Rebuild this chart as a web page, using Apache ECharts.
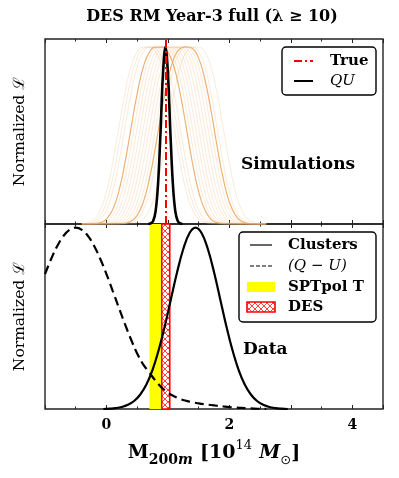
<!DOCTYPE html>
<html><head><meta charset="utf-8">
<script src="https://cdn.jsdelivr.net/npm/echarts@6/dist/echarts.min.js"></script>
<style>html,body{margin:0;padding:0;background:#fff}#c{width:399px;height:478px}</style>
</head><body><div id="c"></div>
<script>
// ---------- data ----------
const xTicks = [0, 2, 4];
const trueMass = 0.97;
const spt = [0.70, 0.90];
const des = [0.90, 1.03];

// simulation likelihoods, sampled on xsSim
const xsSim = [-0.4,-0.3,-0.2,-0.1,0,0.1,0.2,0.3,0.4,0.5,0.6,0.7,0.8,0.9,1.0,1.1,1.2,1.3,1.4,1.5,1.6,1.7,1.8,1.9,2.0,2.1,2.2,2.3,2.4,2.5,2.6];
const sim01 = [.002,.008,.028,.080,.183,.344,.542,.737,.887,.971,.999,.999,.971,.887,.737,.542,.344,.183,.080,.028,.008,.002,0,0,0,0,0,0,0,0,0];
const sim02 = [.001,.004,.015,.049,.124,.257,.440,.643,.819,.937,.991,1,.991,.937,.819,.643,.440,.257,.124,.049,.015,.004,.001,0,0,0,0,0,0,0,0];
const sim03 = [0,.002,.008,.028,.080,.183,.344,.542,.737,.887,.971,.999,.999,.971,.887,.737,.542,.344,.183,.080,.028,.008,.002,0,0,0,0,0,0,0,0];
const sim04 = [0,0,.002,.008,.028,.080,.183,.344,.542,.737,.887,.971,.999,.999,.971,.887,.737,.542,.344,.183,.080,.028,.008,.002,0,0,0,0,0,0,0];
const sim05 = [0,0,.001,.004,.015,.049,.124,.257,.440,.643,.819,.937,.991,1,.991,.937,.819,.643,.440,.257,.124,.049,.015,.004,.001,0,0,0,0,0,0];
const sim06 = [0,0,0,.002,.008,.028,.080,.183,.344,.542,.737,.887,.971,.999,.999,.971,.887,.737,.542,.344,.183,.080,.028,.008,.002,0,0,0,0,0,0];
const sim07 = [0,0,0,.001,.004,.015,.049,.124,.257,.440,.643,.819,.937,.991,1,.991,.937,.819,.643,.440,.257,.124,.049,.015,.004,.001,0,0,0,0,0];
const sim08 = [0,0,0,0,.002,.008,.028,.080,.183,.344,.542,.737,.887,.971,.999,.999,.971,.887,.737,.542,.344,.183,.080,.028,.008,.002,0,0,0,0,0];
const sim09 = [0,0,0,0,.001,.004,.015,.049,.124,.257,.440,.643,.819,.937,.991,1,.991,.937,.819,.643,.440,.257,.124,.049,.015,.004,.001,0,0,0,0];
const sim10 = [0,0,0,0,0,.002,.008,.028,.080,.183,.344,.542,.737,.887,.971,.999,.999,.971,.887,.737,.542,.344,.183,.080,.028,.008,.002,0,0,0,0];
const sim11 = [0,0,0,0,0,.001,.004,.015,.049,.124,.257,.440,.643,.819,.937,.991,1,.991,.937,.819,.643,.440,.257,.124,.049,.015,.004,.001,0,0,0];
const sim12 = [0,0,0,0,0,0,.002,.008,.028,.080,.183,.344,.542,.737,.887,.971,.999,.999,.971,.887,.737,.542,.344,.183,.080,.028,.008,.002,0,0,0];
const sim13 = [0,0,0,0,0,0,.001,.004,.015,.049,.124,.257,.440,.643,.819,.937,.991,1,.991,.937,.819,.643,.440,.257,.124,.049,.015,.004,.001,0,0];
const sim14 = [0,0,0,0,0,0,0,.002,.008,.028,.080,.183,.344,.542,.737,.887,.971,.999,.999,.971,.887,.737,.542,.344,.183,.080,.028,.008,.002,0,0];
const sim15 = [0,0,0,0,0,0,0,0,.002,.008,.028,.080,.183,.344,.542,.737,.887,.971,.999,.999,.971,.887,.737,.542,.344,.183,.080,.028,.008,.002,0];
const simCurves = [sim01,sim02,sim03,sim04,sim05,sim06,sim07,sim08,sim09,sim10,sim11,sim12,sim13,sim14,sim15];

// QU stacked likelihood (simulations)
const xsQU = [0.68,0.72,0.76,0.80,0.84,0.88,0.92,0.96,1.00,1.04,1.08,1.12,1.16,1.20,1.24];
const quVals = [0,.003,.017,.073,.23,.52,.85,1,.85,.52,.23,.073,.017,.003,0];

// data panel: cluster likelihood
const xsClusters = [-0.05,0.05,0.15,0.25,0.35,0.45,0.55,0.65,0.75,0.85,0.95,1.05,1.15,1.25,1.35,1.45,1.55,1.65,1.75,1.85,1.95,2.05,2.15,2.25,2.35,2.45,2.55,2.65,2.75,2.85,2.95];
const clusters = [0,.002,.005,.011,.023,.044,.080,.135,.216,.325,.458,.607,.755,.882,.969,1,.969,.882,.755,.607,.458,.325,.216,.135,.080,.044,.023,.011,.005,.002,0];
// data panel: (Q-U) null test
const xsQU2 = [-1.0,-0.9,-0.8,-0.7,-0.6,-0.5,-0.4,-0.3,-0.2,-0.1,0.0,0.1,0.2,0.3,0.4,0.5,0.6,0.7,0.8,0.9,1.0,1.1,1.2,1.3,1.4,1.5,1.6,1.7,1.8,1.9,2.0,2.1,2.2,2.3,2.4,2.5,2.6];
const qMinusU = [.744,.827,.899,.954,.988,1,.988,.954,.899,.827,.744,.653,.560,.469,.383,.306,.245,.20,.155,.118,.09,.07,.055,.045,.037,.031,.026,.022,.018,.014,.011,.008,.006,.004,.002,.001,0];

// ---------- chart ----------
const SERIF = 'DejaVu Serif';
const zip = (xs, ys) => xs.map((x, i) => [x, ys[i]]);

function hatch() {
  const c = document.createElement('canvas'); c.width = 6; c.height = 6;
  const g = c.getContext('2d');
  g.fillStyle = '#fff'; g.fillRect(0, 0, 6, 6);
  g.strokeStyle = '#ff2a2a'; g.lineWidth = 0.9;
  g.beginPath(); g.moveTo(0, 0); g.lineTo(6, 6); g.moveTo(6, 0); g.lineTo(0, 6); g.stroke();
  return c;
}
const hatchPattern = { image: hatch(), repeat: 'repeat' };

const tickCommon = {
  type: 'value', min: -1, max: 4.5, interval: 1,
  splitLine: { show: false }, axisLine: { show: false },
  axisTick: { inside: true, length: 4, lineStyle: { color: '#222', width: 1 } },
  minorTick: { show: true, splitNumber: 2, length: 2.5, lineStyle: { color: '#222', width: 1 } },
  axisLabel: { show: false }
};

const chart = echarts.init(document.getElementById('c'));
const prominent = new Set([3, 12]);

const series = [];
simCurves.forEach((ys, i) => {
  series.push({
    type: 'line', xAxisIndex: 0, yAxisIndex: 0, data: zip(xsSim, ys), smooth: 0.5,
    showSymbol: false, silent: true, z: 2,
    lineStyle: prominent.has(i) ? { color: '#e9a45c', width: 1.2, opacity: 0.85 }
                                : { color: '#f2b679', width: 0.9, opacity: 0.33 }
  });
});
series.push({
  type: 'line', xAxisIndex: 0, yAxisIndex: 0, data: zip(xsQU, quVals), smooth: 0.4,
  showSymbol: false, silent: true, z: 3, lineStyle: { color: '#000', width: 2.6 },
  markLine: {
    silent: true, symbol: ['none', 'none'], label: { show: false },
    lineStyle: { color: '#ff0000', width: 2, type: [8, 3, 2, 3] },
    data: [{ xAxis: trueMass }]
  }
});
series.push({
  type: 'line', xAxisIndex: 2, yAxisIndex: 1, data: [], z: 1,
  markArea: {
    silent: true,
    data: [
      [{ xAxis: spt[0], itemStyle: { color: '#ffff00' } }, { xAxis: spt[1] }],
      [{ xAxis: des[0], itemStyle: { color: hatchPattern, borderColor: '#ff0000', borderWidth: 1.6 } }, { xAxis: des[1] }]
    ]
  }
});
series.push({
  type: 'line', xAxisIndex: 2, yAxisIndex: 1, data: zip(xsQU2, qMinusU), smooth: 0.4,
  showSymbol: false, silent: true, z: 3, lineStyle: { color: '#000', width: 2.2, type: [9, 5] }
});
series.push({
  type: 'line', xAxisIndex: 2, yAxisIndex: 1, data: zip(xsClusters, clusters), smooth: 0.4,
  showSymbol: false, silent: true, z: 3, lineStyle: { color: '#000', width: 2.2 }
});

const yName = { fontFamily: SERIF, fontSize: 15.5, color: '#000' };
const txt = (x, y, text, opt) => ({ type: 'text', x, y, style: Object.assign({ text, fill: '#000', font: 'bold 14px "DejaVu Serif"', textVerticalAlign: 'middle' }, opt || {}) });

const option = {
  animation: false,
  backgroundColor: '#fff',
  grid: [
    { left: 45, right: 16, top: 39, height: 185, show: true, borderColor: '#222', borderWidth: 1.4 },
    { left: 45, right: 16, top: 224, height: 185, show: true, borderColor: '#222', borderWidth: 1.4 }
  ],
  xAxis: [
    Object.assign({}, tickCommon, { gridIndex: 0, position: 'bottom' }),
    Object.assign({}, tickCommon, { gridIndex: 0, position: 'top' }),
    Object.assign({}, tickCommon, {
      gridIndex: 1, position: 'bottom',
      axisLabel: { show: true, margin: 9, color: '#000', fontFamily: SERIF, fontWeight: 'bold', fontSize: 14,
        formatter: v => xTicks.indexOf(v) >= 0 ? String(v) : '' },
      name: '{b|M}{bs|200}{is|m}{sp|  }{b|[10}{sup|14}{sp|  }{bi|M}{sub|⊙}{b|]}',
      nameLocation: 'middle', nameGap: 30,
      nameTextStyle: {
        rich: {
          b: { fontFamily: SERIF, fontWeight: 'bold', fontSize: 19, color: '#000', lineHeight: 28 },
          bi: { fontFamily: SERIF, fontWeight: 'bold', fontStyle: 'italic', fontSize: 19, color: '#000', lineHeight: 28 },
          sp: { fontSize: 13, lineHeight: 28 },
          bs: { fontFamily: SERIF, fontWeight: 'bold', fontSize: 14, color: '#000', lineHeight: 28, verticalAlign: 'bottom' },
          is: { fontFamily: SERIF, fontWeight: 'bold', fontStyle: 'italic', fontSize: 14, color: '#000', lineHeight: 28, verticalAlign: 'bottom' },
          sup: { fontFamily: SERIF, fontSize: 13, color: '#000', lineHeight: 28, verticalAlign: 'top' },
          sub: { fontFamily: 'DejaVu Sans', fontSize: 13, color: '#000', lineHeight: 28, verticalAlign: 'bottom' }
        }
      }
    }),
    Object.assign({}, tickCommon, { gridIndex: 1, position: 'top' })
  ],
  yAxis: [
    { type: 'value', gridIndex: 0, min: 0, max: 1.045, axisLabel: { show: false }, axisTick: { show: false },
      axisLine: { show: false }, splitLine: { show: false },
      name: 'Normalized ℒ', nameLocation: 'middle', nameGap: 17, nameTextStyle: yName },
    { type: 'value', gridIndex: 1, min: 0, max: 1.02, axisLabel: { show: false }, axisTick: { show: false },
      axisLine: { show: false }, splitLine: { show: false },
      name: 'Normalized ℒ', nameLocation: 'middle', nameGap: 17, nameTextStyle: yName }
  ],
  series,
  graphic: [
    txt(212, 17, 'DES RM Year-3 full (λ ≥ 10)', { textAlign: 'center', font: 'bold 16px "DejaVu Serif"' }),
    txt(298, 165, 'Simulations', { textAlign: 'center', font: 'bold 17px "DejaVu Serif"' }),
    txt(243, 350, 'Data', { textAlign: 'left', font: 'bold 17px "DejaVu Serif"' }),
    // top legend
    { type: 'rect', shape: { x: 282, y: 47, width: 94, height: 48, r: 4 }, style: { fill: '#fff', stroke: '#000', lineWidth: 1.4 }, z: 10 },
    { type: 'line', shape: { x1: 294, y1: 61, x2: 313, y2: 61 }, style: { stroke: '#ff0000', lineWidth: 2, lineDash: [8, 3, 2, 3] }, z: 11 },
    { type: 'line', shape: { x1: 294, y1: 81, x2: 313, y2: 81 }, style: { stroke: '#000', lineWidth: 2 }, z: 11 },
    Object.assign(txt(330, 61, 'True', { font: 'bold 15px "DejaVu Serif"' }), { z: 11 }),
    Object.assign(txt(330, 81, 'QU', { font: 'italic 15px "DejaVu Serif"' }), { z: 11 }),
    // bottom legend
    { type: 'rect', shape: { x: 239, y: 232, width: 137, height: 90, r: 4 }, style: { fill: '#fff', stroke: '#000', lineWidth: 1.4 }, z: 10 },
    { type: 'line', shape: { x1: 250, y1: 245, x2: 272, y2: 245 }, style: { stroke: '#000', lineWidth: 1.2 }, z: 11 },
    { type: 'line', shape: { x1: 250, y1: 266, x2: 272, y2: 266 }, style: { stroke: '#000', lineWidth: 1.2, lineDash: [4, 2] }, z: 11 },
    { type: 'rect', shape: { x: 247, y: 282, width: 28, height: 10 }, style: { fill: '#ffff00' }, z: 11 },
    { type: 'rect', shape: { x: 247, y: 302, width: 28, height: 10 }, style: { fill: hatchPattern, stroke: '#ff0000', lineWidth: 1.6 }, z: 11 },
    Object.assign(txt(288, 245, 'Clusters', { font: 'bold 15px "DejaVu Serif"' }), { z: 11 }),
    Object.assign(txt(288, 266, '(Q − U)', { font: 'italic 15px "DejaVu Serif"' }), { z: 11 }),
    Object.assign(txt(288, 287, 'SPTpol T', { font: 'bold 15px "DejaVu Serif"' }), { z: 11 }),
    Object.assign(txt(288, 307, 'DES', { font: 'bold 15px "DejaVu Serif"' }), { z: 11 })
  ]
};
chart.setOption(option);
</script></body></html>
